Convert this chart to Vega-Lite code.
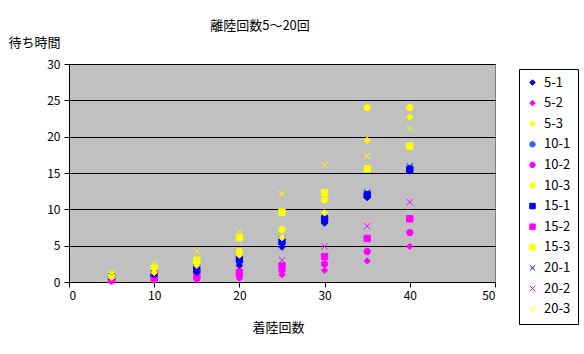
{
  "$schema": "https://vega.github.io/schema/vega-lite/v6.json",
  "width": 426,
  "height": 218,
  "autosize": {"type": "none"},
  "padding": {"left": 69, "top": 64, "right": 89, "bottom": 72},
  "background": "white",
  "title": {"text": "離陸回数5～20回", "fontSize": 13, "fontWeight": "normal", "font": "Noto Sans CJK JP", "color": "black", "anchor": "middle", "frame": "group", "dx": -22, "offset": 3},
  "config": {
    "font": "Noto Sans CJK JP",
    "view": {"fill": "#C0C0C0", "stroke": "#808080"}
  },
  "data": {"values": [
    {"x":5,"s":"5-1","y":0.5},{"x":10,"s":"5-1","y":0.9},{"x":15,"s":"5-1","y":1.3},{"x":20,"s":"5-1","y":2.3},{"x":25,"s":"5-1","y":4.8},{"x":30,"s":"5-1","y":8.1},{"x":35,"s":"5-1","y":11.6},{"x":40,"s":"5-1","y":15.3},
    {"x":5,"s":"5-2","y":0.1},{"x":10,"s":"5-2","y":0.2},{"x":15,"s":"5-2","y":0.3},{"x":20,"s":"5-2","y":0.5},{"x":25,"s":"5-2","y":1.0},{"x":30,"s":"5-2","y":1.6},{"x":35,"s":"5-2","y":2.9},{"x":40,"s":"5-2","y":4.9},
    {"x":5,"s":"5-3","y":0.6},{"x":10,"s":"5-3","y":1.3},{"x":15,"s":"5-3","y":2.3},{"x":20,"s":"5-3","y":3.7},{"x":25,"s":"5-3","y":6.1},{"x":30,"s":"5-3","y":9.5},{"x":35,"s":"5-3","y":19.5},{"x":40,"s":"5-3","y":22.7},
    {"x":5,"s":"10-1","y":0.6},{"x":10,"s":"10-1","y":1.0},{"x":15,"s":"10-1","y":1.5},{"x":20,"s":"10-1","y":2.8},{"x":25,"s":"10-1","y":5.3},{"x":30,"s":"10-1","y":8.4},{"x":35,"s":"10-1","y":11.9},{"x":40,"s":"10-1","y":15.6},
    {"x":5,"s":"10-2","y":0.2},{"x":10,"s":"10-2","y":0.4},{"x":15,"s":"10-2","y":0.6},{"x":20,"s":"10-2","y":0.9},{"x":25,"s":"10-2","y":1.6},{"x":30,"s":"10-2","y":2.5},{"x":35,"s":"10-2","y":4.2},{"x":40,"s":"10-2","y":6.8},
    {"x":5,"s":"10-3","y":0.8},{"x":10,"s":"10-3","y":1.5},{"x":15,"s":"10-3","y":2.6},{"x":20,"s":"10-3","y":4.2},{"x":25,"s":"10-3","y":7.2},{"x":30,"s":"10-3","y":11.3},{"x":35,"s":"10-3","y":24.0},{"x":40,"s":"10-3","y":24.0},
    {"x":5,"s":"15-1","y":0.7},{"x":10,"s":"15-1","y":1.1},{"x":15,"s":"15-1","y":1.8},{"x":20,"s":"15-1","y":3.1},{"x":25,"s":"15-1","y":5.6},{"x":30,"s":"15-1","y":8.7},{"x":35,"s":"15-1","y":12.0},{"x":40,"s":"15-1","y":15.5},
    {"x":5,"s":"15-2","y":0.3},{"x":10,"s":"15-2","y":0.6},{"x":15,"s":"15-2","y":0.9},{"x":20,"s":"15-2","y":1.3},{"x":25,"s":"15-2","y":2.2},{"x":30,"s":"15-2","y":3.5},{"x":35,"s":"15-2","y":6.0},{"x":40,"s":"15-2","y":8.7},
    {"x":5,"s":"15-3","y":0.9},{"x":10,"s":"15-3","y":1.9},{"x":15,"s":"15-3","y":3.0},{"x":20,"s":"15-3","y":6.1},{"x":25,"s":"15-3","y":9.6},{"x":30,"s":"15-3","y":12.3},{"x":35,"s":"15-3","y":15.6},{"x":40,"s":"15-3","y":18.7},
    {"x":5,"s":"20-1","y":0.8},{"x":10,"s":"20-1","y":1.2},{"x":15,"s":"20-1","y":2.0},{"x":20,"s":"20-1","y":3.3},{"x":25,"s":"20-1","y":5.9},{"x":30,"s":"20-1","y":9.0},{"x":35,"s":"20-1","y":12.3},{"x":40,"s":"20-1","y":15.9},
    {"x":5,"s":"20-2","y":0.4},{"x":10,"s":"20-2","y":0.8},{"x":15,"s":"20-2","y":1.2},{"x":20,"s":"20-2","y":1.7},{"x":25,"s":"20-2","y":3.0},{"x":30,"s":"20-2","y":4.9},{"x":35,"s":"20-2","y":7.7},{"x":40,"s":"20-2","y":11.0},
    {"x":5,"s":"20-3","y":1.3},{"x":10,"s":"20-3","y":2.5},{"x":15,"s":"20-3","y":4.2},{"x":20,"s":"20-3","y":6.9},{"x":25,"s":"20-3","y":12.1},{"x":30,"s":"20-3","y":16.1},{"x":35,"s":"20-3","y":17.3},{"x":40,"s":"20-3","y":21.1}
  ]},
  "mark": {"type": "point", "filled": true, "size": 40, "strokeWidth": 1, "opacity": 1},
  "encoding": {
    "x": {
      "field": "x", "type": "quantitative",
      "scale": {"domain": [0, 50], "nice": false, "zero": true},
      "axis": {
        "values": [0, 10, 20, 30, 40, 50], "grid": false,
        "domainColor": "black", "tickColor": "black", "tickSize": 5,
        "labelFontSize": 12, "labelColor": "black", "labelPadding": 3, "labelFont": "Noto Sans CJK JP",
        "title": "着陸回数", "titleFontSize": 13, "titleFontWeight": "normal", "titleColor": "black",
        "titleX": 209, "titleY": 45, "titleAlign": "center", "titleBaseline": "middle"
      }
    },
    "y": {
      "field": "y", "type": "quantitative",
      "scale": {"domain": [0, 30], "nice": false},
      "axis": {
        "values": [0, 5, 10, 15, 20, 25, 30], "grid": true, "gridColor": "black", "gridOpacity": 1,
        "domainColor": "black", "tickColor": "black", "tickSize": 5,
        "labelFontSize": 12, "labelColor": "black", "labelPadding": 4,
        "title": "待ち時間", "titleAngle": 0, "titleX": -61, "titleY": -22,
        "titleAlign": "left", "titleBaseline": "middle", "titleFontSize": 13,
        "titleFontWeight": "normal", "titleColor": "black"
      }
    },
    "color": {
      "field": "s", "type": "nominal",
      "sort": ["5-1","5-2","5-3","10-1","10-2","10-3","15-1","15-2","15-3","20-1","20-2","20-3"],
      "scale": {
        "domain": ["5-1","5-2","5-3","10-1","10-2","10-3","15-1","15-2","15-3","20-1","20-2","20-3"],
        "range": ["#0000DD","#FF00FF","#FFFF00","#3366FF","#FF00FF","#FFFF00","#0000FF","#FF00FF","#FFFF00","#0000FF","#FF00FF","#FFFF00"]
      },
      "legend": {
        "orient": "none", "legendX": 450, "legendY": 5, "title": null,
        "strokeColor": "black", "fillColor": "white", "padding": 7,
        "labelFontSize": 13, "labelColor": "black", "rowPadding": 6.6,
        "symbolSize": 30, "symbolStrokeWidth": 1, "labelOffset": 5
      }
    },
    "stroke": {
      "field": "s", "type": "nominal",
      "scale": {
        "domain": ["5-1","5-2","5-3","10-1","10-2","10-3","15-1","15-2","15-3","20-1","20-2","20-3"],
        "range": ["#0000DD","#FF00FF","#FFFF00","#3366FF","#FF00FF","#FFFF00","#0000FF","#FF00FF","#FFFF00","#0000FF","#FF00FF","#FFFF00"]
      },
      "legend": {
        "orient": "none", "legendX": 450, "legendY": 5, "title": null,
        "strokeColor": "black", "fillColor": "white", "padding": 7,
        "labelFontSize": 13, "labelColor": "black", "rowPadding": 6.6,
        "symbolSize": 30, "symbolStrokeWidth": 1, "labelOffset": 5
      }
    },
    "shape": {
      "field": "s", "type": "nominal",
      "scale": {
        "domain": ["5-1","5-2","5-3","10-1","10-2","10-3","15-1","15-2","15-3","20-1","20-2","20-3"],
        "range": ["diamond","diamond","diamond","circle","circle","circle","square","square","square","M-1,-1L1,1M-1,1L1,-1","M-1,-1L1,1M-1,1L1,-1","M-1,-1L1,1M-1,1L1,-1"]
      },
      "legend": {
        "orient": "none", "legendX": 450, "legendY": 5, "title": null,
        "strokeColor": "black", "fillColor": "white", "padding": 7,
        "labelFontSize": 13, "labelColor": "black", "rowPadding": 6.6,
        "symbolSize": 30, "symbolStrokeWidth": 1, "labelOffset": 5
      }
    },
    "order": {"field": "s", "type": "nominal"}
  }
}
